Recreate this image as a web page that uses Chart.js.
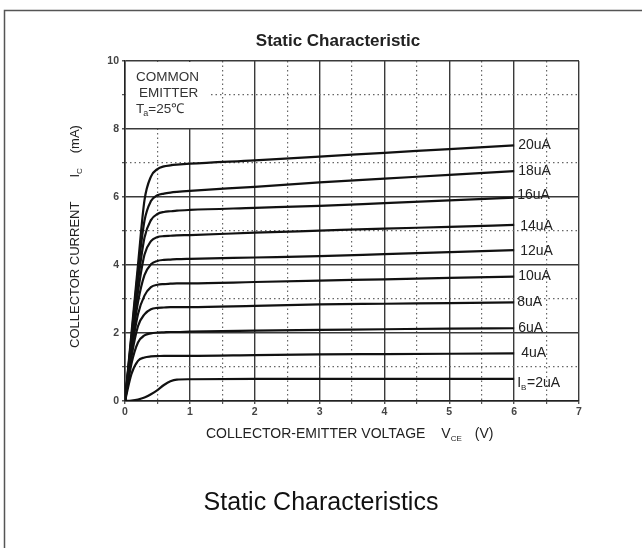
<!DOCTYPE html>
<html>
<head>
<meta charset="utf-8">
<script src="https://cdn.jsdelivr.net/npm/chart.js@4.4.0/dist/chart.umd.min.js"></script>
<style>
  body { margin: 0; background: #fff; }
  #wrap { width: 642px; height: 548px; position: relative; }
</style>
</head>
<body>
<div id="wrap"><canvas id="myChart" width="642" height="548"></canvas></div>
<script>

// collector-emitter voltage (V)
var vce = [0, 0.1, 0.2, 0.3, 0.4, 0.5, 0.6, 0.7, 0.8, 1, 2, 3, 4, 5, 6];

// base current labels
var curveNames = ['20uA', '18uA', '16uA', '14uA', '12uA', '10uA', '8uA', '6uA', '4uA', '2uA'];

// collector current (mA) for each base current
var ib20 = [0, 2.0, 4.0, 5.9, 6.6, 6.82, 6.9, 6.93, 6.95, 6.98, 7.08, 7.19, 7.3, 7.41, 7.52];
var ib18 = [0, 1.9, 3.8, 5.3, 5.88, 6.05, 6.1, 6.13, 6.15, 6.18, 6.3, 6.43, 6.54, 6.65, 6.76];
var ib16 = [0, 1.8, 3.5, 4.8, 5.32, 5.5, 5.56, 5.58, 5.6, 5.62, 5.68, 5.74, 5.82, 5.9, 5.98];
var ib14 = [0, 1.7, 3.2, 4.3, 4.7, 4.82, 4.85, 4.86, 4.87, 4.88, 4.95, 5.01, 5.07, 5.12, 5.18];
var ib12 = [0, 1.6, 2.9, 3.7, 4.02, 4.12, 4.15, 4.16, 4.17, 4.18, 4.22, 4.26, 4.32, 4.38, 4.44];
var ib10 = [0, 1.45, 2.55, 3.1, 3.35, 3.42, 3.44, 3.45, 3.46, 3.46, 3.5, 3.54, 3.58, 3.62, 3.66];
var ib8 = [0, 1.3, 2.2, 2.55, 2.7, 2.74, 2.75, 2.76, 2.76, 2.76, 2.8, 2.84, 2.86, 2.88, 2.9];
var ib6 = [0, 1.1, 1.72, 1.93, 1.99, 2.01, 2.02, 2.03, 2.03, 2.04, 2.07, 2.09, 2.11, 2.13, 2.14];
var ib4 = [0, 0.8, 1.18, 1.28, 1.31, 1.32, 1.33, 1.33, 1.33, 1.33, 1.35, 1.37, 1.38, 1.39, 1.4];
var ib2 = [0, 0.01, 0.04, 0.1, 0.2, 0.32, 0.47, 0.58, 0.63, 0.64, 0.65, 0.65, 0.65, 0.65, 0.65];

var currents = [ib20, ib18, ib16, ib14, ib12, ib10, ib8, ib6, ib4, ib2];

var datasets = [];

for (var i = 0; i != currents.length; i++) {
    var pts = [];
    for (var j = 0; j != vce.length; j++) {
        pts.push({ x: vce[j], y: currents[i][j] });
    }
    datasets.push({
        label: curveNames[i],
        data: pts,
        borderColor: '#111',
        borderWidth: 2.2,
        pointRadius: 0,
        fill: false,
        cubicInterpolationMode: 'monotone'
    });
}

function isMinor(ctx) {
    return ctx.tick && Math.abs(ctx.tick.value % 1) > 0.01;
}

function isMinorY(ctx) {
    return ctx.tick && Math.abs(ctx.tick.value % 2) > 0.01;
}

var FONT = '"Liberation Sans", Arial, sans-serif';

var textPlugin = {
    id: 'textPlugin',
    beforeDatasetsDraw: function (chart) {
        var c = chart.ctx;
        var xs = chart.scales.x, ys = chart.scales.y;
        // white box behind the condition note
        var l = xs.getPixelForValue(0) + 1;
        var r = xs.getPixelForValue(1.3);
        var t = ys.getPixelForValue(10) + 1;
        var b = ys.getPixelForValue(8) - 1;
        c.save();
        c.fillStyle = '#fff';
        c.fillRect(l, t, r - l, b - t);
        c.restore();
    },
    afterDraw: function (chart) {
        var c = chart.ctx;
        var xs = chart.scales.x, ys = chart.scales.y;
        c.save();

        // outer frame (left and top edges only)
        c.strokeStyle = '#555';
        c.lineWidth = 1.5;
        c.beginPath();
        c.moveTo(4.5, 548);
        c.lineTo(4.5, 10.5);
        c.lineTo(642, 10.5);
        c.stroke();

        c.fillStyle = '#222';
        c.textBaseline = 'middle';

        // title
        c.font = 'bold 17px ' + FONT;
        c.textAlign = 'center';
        c.fillText('Static Characteristic', 338, 41);

        // caption
        c.font = '25px ' + FONT;
        c.fillStyle = '#111';
        c.fillText('Static Characteristics', 321, 503);

        // condition note
        c.fillStyle = '#333';
        c.textAlign = 'left';
        c.font = '13.5px ' + FONT;
        c.fillText('COMMON', 136, 77);
        c.fillText('EMITTER', 139, 93);
        c.fillText('T', 136, 109);
        var tw = c.measureText('T').width;
        c.font = '9px ' + FONT;
        c.fillText('a', 136 + tw - 1, 114);
        c.font = '13.5px ' + FONT;
        c.fillText('=25\u2103', 136 + tw + 4, 109);

        // curve labels
        var xr = xs.getPixelForValue(6);
        var dy = [0, 0, -3, 1, 1, 0, 0, 0, 0, 4];
        var dx = [4, 4, 3, 6, 6, 4, 3, 4, 7, 3];
        c.font = '14px ' + FONT;
        c.fillStyle = '#222';
        for (var i = 0; i != curveNames.length; i++) {
            var yv = ys.getPixelForValue(currents[i][currents[i].length - 1]) + dy[i];
            if (curveNames[i] == '2uA') {
                c.fillText('I', xr + dx[i], yv);
                var iw = c.measureText('I').width;
                c.font = '8px ' + FONT;
                c.fillText('B', xr + dx[i] + iw, yv + 5);
                c.font = '14px ' + FONT;
                c.fillText('=2uA', xr + dx[i] + iw + 6, yv);
            } else {
                c.fillText(curveNames[i], xr + dx[i], yv);
            }
        }

        // x axis title
        c.font = '14px ' + FONT;
        c.fillStyle = '#222';
        var xt = 'COLLECTOR-EMITTER VOLTAGE';
        c.fillText(xt, 206, 434);
        var px = 206 + c.measureText(xt).width + 16;
        c.fillText('V', px, 434);
        px += c.measureText('V').width;
        c.font = '8px ' + FONT;
        c.fillText('CE', px, 439);
        px += c.measureText('CE').width + 13;
        c.font = '14px ' + FONT;
        c.fillText('(V)', px, 434);

        // y axis title (rotated)
        c.font = '13px ' + FONT;
        c.translate(75, 348);
        c.rotate(-Math.PI / 2);
        var yt = 'COLLECTOR CURRENT';
        c.fillText(yt, 0, 0);
        var py = c.measureText(yt).width + 24;
        c.fillText('I', py, 0);
        py += c.measureText('I').width;
        c.font = '8px ' + FONT;
        c.fillText('C', py, 5);
        py += c.measureText('C').width + 15;
        c.font = '13px ' + FONT;
        c.fillText('(mA)', py, 0);

        c.restore();
    }
};

var config = {
    type: 'line',
    data: { datasets: datasets },
    options: {
        responsive: false,
        animation: false,
        layout: { padding: { left: 0, right: 63, top: 61, bottom: 127 } },
        plugins: {
            legend: { display: false },
            tooltip: { enabled: false },
            title: { display: false }
        },
        scales: {
            x: {
                type: 'linear',
                min: 0,
                max: 7,
                afterFit: function (scale) { scale.height = 20; },
                ticks: {
                    stepSize: 0.5,
                    autoSkip: false,
                    maxRotation: 0,
                    padding: 2,
                    color: '#444',
                    font: { family: FONT, size: 10.5, weight: 'bold' },
                    callback: function (v) { return v % 1 == 0 ? String(v) : ''; }
                },
                grid: {
                    color: function (ctx) { return isMinor(ctx) ? '#666' : '#3a3a3a'; },
                    lineWidth: function (ctx) { return isMinor(ctx) ? 1.2 : 1.4; },
                    tickLength: 3,
                    tickColor: '#555'
                },
                border: {
                    display: true,
                    color: '#222',
                    width: 1.5,
                    dash: function (ctx) { return isMinor(ctx) ? [1.5, 3] : []; }
                }
            },
            y: {
                type: 'linear',
                min: 0,
                max: 10,
                afterFit: function (scale) { scale.width = 125; },
                ticks: {
                    stepSize: 1,
                    padding: 3,
                    color: '#444',
                    font: { family: FONT, size: 10.5, weight: 'bold' },
                    callback: function (v) { return v % 2 == 0 ? String(v) : ''; }
                },
                grid: {
                    color: function (ctx) { return isMinorY(ctx) ? '#666' : '#3a3a3a'; },
                    lineWidth: function (ctx) { return isMinorY(ctx) ? 1.2 : 1.4; },
                    tickLength: 3,
                    tickColor: '#555'
                },
                border: {
                    display: true,
                    color: '#222',
                    width: 1.5,
                    dash: function (ctx) { return isMinorY(ctx) ? [1.5, 3] : []; }
                }
            }
        }
    },
    plugins: [textPlugin]
};

var chart = new Chart(document.getElementById('myChart'), config);

</script>
</body>
</html>
